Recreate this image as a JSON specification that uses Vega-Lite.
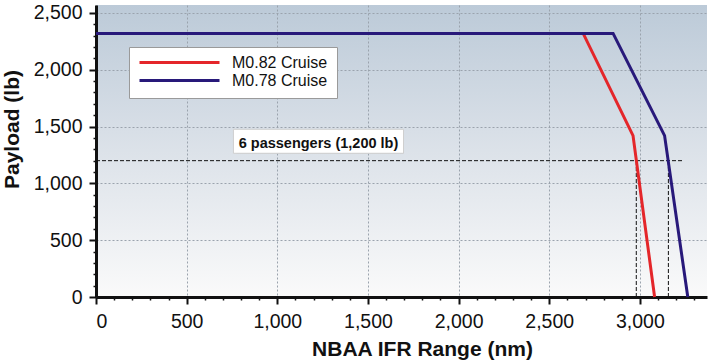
{
  "$schema": "https://vega.github.io/schema/vega-lite/v6.json",
  "autosize": "none",
  "width": 611,
  "height": 292,
  "padding": {"left": 96, "top": 5, "right": 5, "bottom": 65},
  "background": "white",
  "config": {
    "font": "Liberation Sans",
    "view": {
      "stroke": null,
      "fill": {"gradient": "linear", "x1": 0, "y1": 0, "x2": 0, "y2": 1,
        "stops": [{"offset": 0, "color": "#bccad8"}, {"offset": 0.5, "color": "#dce2e9"}, {"offset": 1, "color": "#fafafa"}]}
    },
    "axis": {
      "domainColor": "#111",
      "domainWidth": 3,
      "tickColor": "#111",
      "labelColor": "#111",
      "titleColor": "#111",
      "labelFontSize": 19.5,
      "titleFontSize": 21,
      "titleFontWeight": "bold",
      "labelOverlap": false,
      "tickCount": 200,
      "gridColor": "#9aa3ad",
      "gridDash": [2, 2],
      "gridWidth": 1
    }
  },
  "datasets": {
    "curves": [
      {"series": "M0.82 Cruise", "range": 0, "payload": 2320},
      {"series": "M0.82 Cruise", "range": 2687, "payload": 2320},
      {"series": "M0.82 Cruise", "range": 2962, "payload": 1420},
      {"series": "M0.82 Cruise", "range": 3081, "payload": 0},
      {"series": "M0.78 Cruise", "range": 0, "payload": 2320},
      {"series": "M0.78 Cruise", "range": 2852, "payload": 2320},
      {"series": "M0.78 Cruise", "range": 3136, "payload": 1420},
      {"series": "M0.78 Cruise", "range": 3264, "payload": 0}
    ],
    "refs": [
      {"x": 0, "x2": 3240, "y": 1200, "y2": 1200},
      {"x": 2980, "x2": 2980, "y": 0, "y2": 1200},
      {"x": 3157, "x2": 3157, "y": 0, "y2": 1200}
    ],
    "note": [
      {"x": 758, "x2": 1696, "y": 1476, "y2": 1265, "tx": 787, "ty": 1312, "label": "6 passengers (1,200 lb)"}
    ]
  },
  "encoding": {
    "x": {"type": "quantitative"},
    "y": {"type": "quantitative"}
  },
  "layer": [
    {
      "data": {"name": "refs"},
      "mark": {"type": "rule", "color": "#111", "strokeWidth": 1, "strokeDash": [4, 2]},
      "encoding": {
        "x": {"field": "x", "type": "quantitative",
          "scale": {"domain": [0, 3370], "nice": false, "zero": false},
          "title": "NBAA IFR Range (nm)",
          "axis": {
            "values": [0,100,200,300,400,500,600,700,800,900,1000,1100,1200,1300,1400,1500,1600,1700,1800,1900,2000,2100,2200,2300,2400,2500,2600,2700,2800,2900,3000,3100,3200,3300],
            "tickCount": 200,
            "labelExpr": "datum.value % 500 === 0 ? format(datum.value, ',') : ''",
            "tickSize": {"condition": {"test": "datum.value % 500 === 0", "value": 7}, "value": 3},
            "tickWidth": {"condition": {"test": "datum.value % 500 === 0", "value": 2}, "value": 1.5},
            "gridOpacity": {"condition": {"test": "datum.value % 500 === 0", "value": 1}, "value": 0},
            "labelPadding": 8,
            "titleX": 326, "titleY": 58, "titleAnchor": null, "titleAlign": "center", "titleBaseline": "alphabetic"
          }},
        "x2": {"field": "x2"},
        "y": {"field": "y", "type": "quantitative",
          "scale": {"domain": [0, 2570], "nice": false},
          "title": "Payload (lb)",
          "axis": {
            "values": [0,100,200,300,400,500,600,700,800,900,1000,1100,1200,1300,1400,1500,1600,1700,1800,1900,2000,2100,2200,2300,2400,2500],
            "tickCount": 200,
            "labelExpr": "datum.value % 500 === 0 ? format(datum.value, ',') : ''",
            "tickSize": {"condition": {"test": "datum.value % 500 === 0", "value": 7}, "value": 3},
            "tickWidth": {"condition": {"test": "datum.value % 500 === 0", "value": 2}, "value": 1.5},
            "gridOpacity": {"condition": {"test": "datum.value % 500 === 0", "value": 1}, "value": 0},
            "labelPadding": 7,
            "titleX": -78, "titleY": 124, "titleAngle": -90, "titleAlign": "center", "titleBaseline": "alphabetic"
          }},
        "y2": {"field": "y2"}
      }
    },
    {
      "data": {"name": "curves"},
      "transform": [{"filter": "datum.series === 'M0.82 Cruise'"}],
      "mark": {"type": "line", "strokeWidth": 3},
      "encoding": {
        "x": {"field": "range", "type": "quantitative"},
        "y": {"field": "payload", "type": "quantitative"},
        "color": {"field": "series", "type": "nominal",
          "scale": {"domain": ["M0.82 Cruise", "M0.78 Cruise"], "range": ["#e4262a", "#28197a"]},
          "legend": {"title": null, "orient": "none", "legendX": 33, "legendY": 42,
            "fillColor": "white", "strokeColor": "#9a9a9a", "padding": 9,
            "symbolType": "stroke", "symbolSize": 6400, "symbolStrokeWidth": 3,
            "clipHeight": 13, "rowPadding": 1, "labelOffset": 11,
            "labelFontSize": 16, "labelColor": "#111", "labelFont": "Liberation Sans"}}
      }
    },
    {
      "data": {"name": "curves"},
      "transform": [{"filter": "datum.series === 'M0.78 Cruise'"}],
      "mark": {"type": "line", "strokeWidth": 3},
      "encoding": {
        "x": {"field": "range", "type": "quantitative"},
        "y": {"field": "payload", "type": "quantitative"},
        "color": {"field": "series", "type": "nominal"}
      }
    },
    {
      "data": {"name": "note"},
      "mark": {"type": "rect", "color": "#555", "opacity": 0.45, "xOffset": 3, "yOffset": 3},
      "encoding": {
        "x": {"field": "x", "type": "quantitative"}, "x2": {"field": "x2"},
        "y": {"field": "y", "type": "quantitative"}, "y2": {"field": "y2"}
      }
    },
    {
      "data": {"name": "note"},
      "mark": {"type": "rect", "fill": "white", "stroke": "#cfcfcf", "strokeWidth": 1},
      "encoding": {
        "x": {"field": "x", "type": "quantitative"}, "x2": {"field": "x2"},
        "y": {"field": "y", "type": "quantitative"}, "y2": {"field": "y2"}
      }
    },
    {
      "data": {"name": "note"},
      "mark": {"type": "text", "align": "left", "baseline": "alphabetic", "fontWeight": "bold", "fontSize": 14.5, "color": "#111"},
      "encoding": {
        "x": {"field": "tx", "type": "quantitative"},
        "y": {"field": "ty", "type": "quantitative"},
        "text": {"field": "label"}
      }
    }
  ]
}
